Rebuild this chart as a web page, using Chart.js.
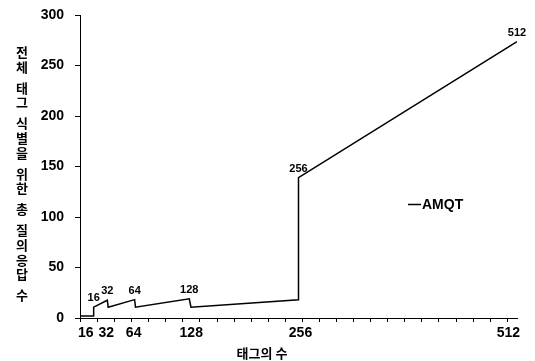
<!DOCTYPE html>
<html>
<head>
<meta charset="utf-8">
<script src="https://cdn.jsdelivr.net/npm/chart.js@4/dist/chart.umd.min.js"></script>
<style>
  html, body { margin: 0; padding: 0; background: #fff; }
  #wrap { width: 535px; height: 361px; }
</style>
</head>
<body>
<div id="wrap"><canvas id="chart"></canvas></div>
<script>
// tag counts and total query/response counts (AMQT)
const tagCounts = [0, 16, 16, 32, 33, 64, 65, 128, 130, 256, 256, 512];
const queries   = [2, 2, 10.7, 17.6, 10.7, 18.2, 10.7, 19, 10.7, 18, 139, 273.6];

const xTickValues = [16, 32, 64, 128, 256, 512];
const pointLabels = [16, 32, 64, 128, 256, 512];
const seriesName = 'AMQT';
const xTitle = '태그의 수';
const yTitle = '전체 태그 식별을 위한 총 질의응답 수';

const KR = '"Noto Sans CJK KR", sans-serif';
const NUM = '"Liberation Sans", Arial, sans-serif';

// minor tick marks every 20 tags, plus the x labels (first/last nudged inward like the original)
const xAxisMarks = {
  id: 'xAxisMarks',
  afterDraw(chart) {
    const { ctx, scales: { x }, chartArea } = chart;
    ctx.save();
    ctx.strokeStyle = '#000';
    ctx.lineWidth = 1;
    for (let v = 0; v <= x.max; v += 20) {
      const px = Math.round(x.getPixelForValue(v)) + 0.5;
      ctx.beginPath();
      ctx.moveTo(px, chartArea.bottom);
      ctx.lineTo(px, chartArea.bottom + 4);
      ctx.stroke();
    }
    ctx.fillStyle = '#000';
    ctx.font = 'bold 14px ' + NUM;
    ctx.textBaseline = 'middle';
    xTickValues.forEach((v, i) => {
      const px = x.getPixelForValue(v);
      if (i === 0) { ctx.textAlign = 'right'; ctx.fillText(String(v), px, chartArea.bottom + 15); }
      else if (i === xTickValues.length - 1) { ctx.textAlign = 'right'; ctx.fillText(String(v), px + 3, chartArea.bottom + 15); }
      else { ctx.textAlign = 'center'; ctx.fillText(String(v), px + (v >= 128 ? 2 : -1), chartArea.bottom + 15); }
    });
    ctx.font = 'bold 13px ' + KR;
    ctx.textAlign = 'center';
    ctx.fillText(xTitle, 262, 353);
    ctx.restore();
  }
};

// value labels above the peaks
const peakLabels = {
  id: 'peakLabels',
  afterDatasetsDraw(chart) {
    const { ctx, scales: { x, y } } = chart;
    ctx.save();
    ctx.font = 'bold 11px ' + NUM;
    ctx.fillStyle = '#000';
    ctx.textAlign = 'center';
    ctx.textBaseline = 'middle';
    pointLabels.forEach(t => {
      let best = -Infinity;
      tagCounts.forEach((c, i) => { if (c === t && queries[i] > best) best = queries[i]; });
      const px = Math.min(x.getPixelForValue(t), chart.width - 14);
      ctx.fillText(String(t), px, y.getPixelForValue(best) - 9);
    });
    ctx.restore();
  }
};

// stacked vertical y title + in-plot legend
const extras = {
  id: 'extras',
  afterDraw(chart) {
    const { ctx } = chart;
    ctx.save();
    ctx.fillStyle = '#000';
    ctx.font = 'bold 13px ' + KR;
    ctx.textAlign = 'center';
    ctx.textBaseline = 'middle';
    let cy = 52;
    for (const ch of yTitle) {
      if (ch === ' ') { cy += 6; continue; }
      ctx.fillText(ch, 22, cy);
      cy += 14.8;
    }
    // legend
    ctx.strokeStyle = '#000';
    ctx.lineWidth = 1.5;
    ctx.beginPath();
    ctx.moveTo(408, 204.5);
    ctx.lineTo(421, 204.5);
    ctx.stroke();
    ctx.font = 'bold 14px ' + NUM;
    ctx.textAlign = 'left';
    ctx.fillText(seriesName, 422, 205);
    ctx.restore();
  }
};

new Chart(document.getElementById('chart'), {
  type: 'line',
  data: {
    datasets: [{
      label: seriesName,
      data: tagCounts.map((c, i) => ({ x: c, y: queries[i] })),
      borderColor: '#000',
      borderWidth: 1.5,
      pointRadius: 0,
      tension: 0,
      fill: false
    }]
  },
  options: {
    responsive: true,
    maintainAspectRatio: false,
    animation: false,
    devicePixelRatio: 1,
    layout: { padding: { top: 15, right: 18, bottom: 0, left: 0 } },
    plugins: { legend: { display: false }, tooltip: { enabled: false } },
    scales: {
      x: {
        type: 'linear',
        min: 0,
        max: 512,
        afterBuildTicks: s => { s.ticks = xTickValues.map(v => ({ value: v })); },
        afterFit: s => { s.height = 43; s.paddingLeft = 0; s.paddingRight = 0; },
        grid: { display: true, drawOnChartArea: false, drawTicks: false },
        border: { color: '#000', width: 1 },
        ticks: { display: false }
      },
      y: {
        min: 0,
        max: 300,
        afterFit: s => { s.width = 80; s.paddingTop = 0; s.paddingBottom = 0; },
        grid: { display: true, drawOnChartArea: false, drawTicks: true, tickLength: 5, color: '#000' },
        border: { color: '#000', width: 1 },
        ticks: { stepSize: 50, color: '#000', padding: 11, font: { family: NUM, size: 14, weight: 'bold' } }
      }
    }
  },
  plugins: [xAxisMarks, peakLabels, extras]
});
</script>
</body>
</html>
